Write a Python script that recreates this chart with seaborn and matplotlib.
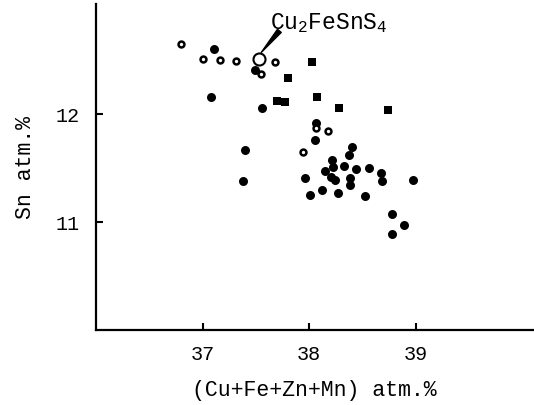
import matplotlib
matplotlib.use("Agg")
import matplotlib.pyplot as plt
import seaborn as sns
import pandas as pd

# data: (Cu+Fe+Zn+Mn) atm.% vs Sn atm.%
open_x = [36.80, 37.00, 37.16, 37.31, 37.55, 37.68, 37.94, 38.06, 38.18]
open_y = [12.65, 12.51, 12.50, 12.49, 12.37, 12.48, 11.65, 11.87, 11.84]

filled_x = [37.11, 37.49, 37.08, 37.56, 37.40, 37.38, 38.06, 38.05, 38.40, 38.37,
            38.21, 38.22, 38.33, 38.44, 38.56, 38.67, 38.68, 38.15, 38.20, 38.24,
            38.38, 38.38, 37.96, 38.12, 38.01, 38.27, 38.52, 38.97, 38.78, 38.89,
            38.78]
filled_y = [12.60, 12.41, 12.16, 12.06, 11.67, 11.38, 11.92, 11.76, 11.69, 11.62,
            11.57, 11.51, 11.52, 11.49, 11.50, 11.45, 11.38, 11.47, 11.42, 11.39,
            11.41, 11.34, 11.41, 11.30, 11.25, 11.27, 11.24, 11.39, 11.07, 10.97,
            10.89]

square_x = [37.80, 37.70, 37.77, 38.03, 38.07, 38.28, 38.74]
square_y = [12.33, 12.12, 12.11, 12.48, 12.16, 12.06, 12.04]

ref_x = [37.53]
ref_y = [12.51]
ref_label = "Cu$_2$FeSnS$_4$"

sns.set_style("ticks")
plt.rcParams['font.family'] = ['Liberation Mono', 'DejaVu Sans Mono']
plt.rcParams['mathtext.fontset'] = 'custom'
plt.rcParams['mathtext.rm'] = 'Liberation Mono'
plt.rcParams['mathtext.it'] = 'Liberation Mono'
for key in ['text.color', 'axes.labelcolor', 'xtick.color', 'ytick.color', 'axes.edgecolor']:
    plt.rcParams[key] = 'black'

fig = plt.figure(figsize=(5.34, 4.06), dpi=100)
ax = fig.add_axes([0.180, 0.185, 0.818, 0.803])

sns.scatterplot(x=filled_x, y=filled_y, ax=ax, color='black', marker='o',
                s=42, edgecolor='black', linewidth=0)
sns.scatterplot(x=square_x, y=square_y, ax=ax, color='black', marker='s',
                s=40, edgecolor='black', linewidth=0)
sns.scatterplot(x=open_x, y=open_y, ax=ax, marker='o', s=18,
                facecolor='white', edgecolor='black', linewidth=1.8)
sns.scatterplot(x=ref_x, y=ref_y, ax=ax, marker='o', s=75,
                facecolor='white', edgecolor='black', linewidth=1.5)

ax.text(37.63, 12.85, ref_label, fontsize=16.5, ha='left', va='center')
ax.annotate('', xy=(ref_x[0] + 0.02, ref_y[0] + 0.06), xytext=(37.72, 12.77),
            arrowprops=dict(arrowstyle='wedge,tail_width=0.35', color='black',
                            shrinkA=0, shrinkB=0))

ax.set_xlim(36.0, 40.1)
ax.set_ylim(10.0, 13.02)
ax.set_xticks([37, 38, 39])
ax.set_yticks([11, 12])
ax.tick_params(direction='in', length=5, width=1.5, labelsize=14.5)
ax.tick_params(axis='x', pad=10)
ax.tick_params(axis='y', pad=12)

ax.set_xlabel("(Cu+Fe+Zn+Mn) atm.%", fontsize=15.5, labelpad=12)
ax.set_ylabel("Sn atm.%", fontsize=15.5, labelpad=14)

sns.despine(ax=ax)
for side in ['left', 'bottom']:
    ax.spines[side].set_linewidth(1.6)

plt.savefig("out.png", dpi=100)
